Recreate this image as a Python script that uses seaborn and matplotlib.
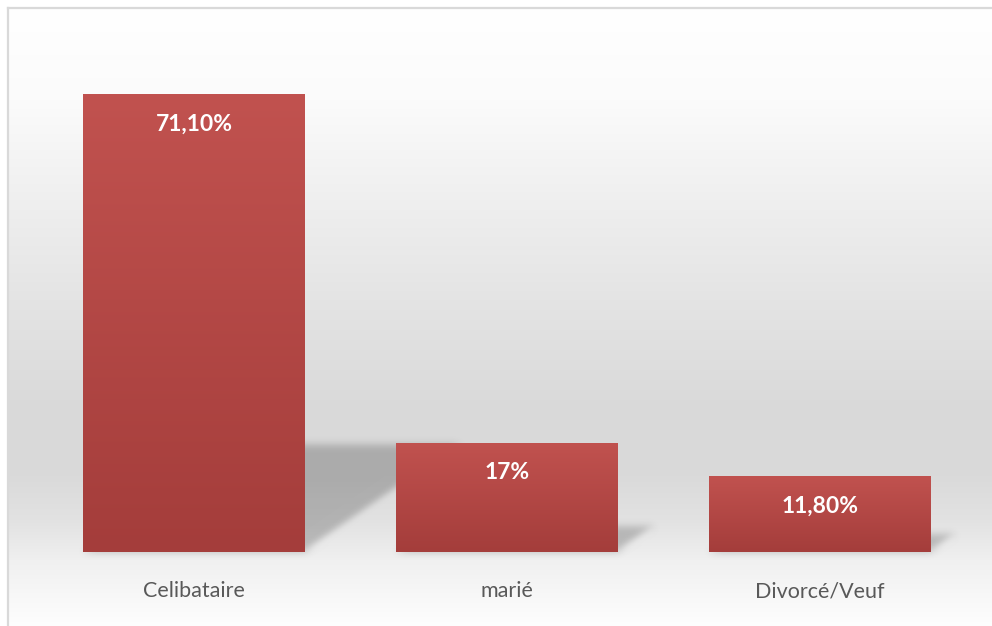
import numpy as np
import pandas as pd
import matplotlib
matplotlib.use("Agg")
import matplotlib.pyplot as plt
import seaborn as sns
from matplotlib.patches import Polygon
from matplotlib.lines import Line2D

# Data
categories = ["Celibataire", "marié", "Divorcé/Veuf"]
values = [71.10, 17.0, 11.80]
value_labels = ["71,10%", "17%", "11,80%"]

plt.rcParams["font.family"] = ["Lato", "DejaVu Sans"]

W, H = 992, 626
fig = plt.figure(figsize=(W / 100, H / 100), dpi=100)
fig.patch.set_facecolor("white")

# ---- chart-area background: vertical grey gradient ----
bg = fig.add_axes([9 / W, 0, 1 - 9 / W, 1 - 9 / H], zorder=0)
bg.set_axis_off()
rows = np.arange(9, H)
stop_y = [9, 100, 200, 300, 400, 470, 520, 560, 626]
stop_v = [255, 251, 239, 228, 218, 217, 226, 240, 254]
level = np.interp(rows, stop_y, stop_v) / 255.0
bg_img = np.repeat(level[:, None, None], 3, axis=2)
bg.imshow(bg_img, aspect="auto", extent=[0, 1, 0, 1], interpolation="bilinear")
bg.set_xlim(0, 1)
bg.set_ylim(0, 1)

# frame lines (top and left)
fig.add_artist(Line2D([8 / W, 1], [1 - 8 / H, 1 - 8 / H], transform=fig.transFigure,
                      color="#d9d9d9", lw=1.6, zorder=5))
fig.add_artist(Line2D([8 / W, 8 / W], [0, 1 - 8 / H], transform=fig.transFigure,
                      color="#d9d9d9", lw=1.6, zorder=5))

# ---- plot axes ----
ax_left, ax_right = 38, 976
base_px, top_px = 552, 37
ax = fig.add_axes([ax_left / W, (H - base_px) / H, (ax_right - ax_left) / W,
                   (base_px - top_px) / H], zorder=1)
ax.patch.set_alpha(0)

df = pd.DataFrame({"statut": categories, "pct": values})
sns.barplot(data=df, x="statut", y="pct", ax=ax, width=0.71, color="#c0504d",
            saturation=1, errorbar=None, zorder=2)

ax.set_xlim(-0.5, 2.5)
ax.set_ylim(0, 80)
for s in ax.spines.values():
    s.set_visible(False)
ax.set_yticks([])
ax.set_xlabel("")
ax.set_ylabel("")
ax.tick_params(axis="x", length=0, pad=21, labelsize=15.5, labelcolor="#595959")


def gauss_kernel(sigma):
    r = int(3 * sigma)
    x = np.arange(-r, r + 1)
    k = np.exp(-0.5 * (x / sigma) ** 2)
    return k / k.sum()


class BlurFilter:
    """Gaussian blur used as an agg filter for soft shadows."""

    def __init__(self, sigma):
        self.sigma = sigma

    def __call__(self, im, dpi):
        pad = int(3 * self.sigma) + 2
        src = np.pad(im, [(pad, pad), (pad, pad), (0, 0)], "constant")
        k = gauss_kernel(self.sigma)
        r = len(k) // 2
        out = np.zeros_like(src)
        for i, w in enumerate(k):
            out += w * np.roll(src, i - r, axis=0)
        out2 = np.zeros_like(out)
        for i, w in enumerate(k):
            out2 += w * np.roll(out, i - r, axis=1)
        return out2, -pad, -pad


# pixel scale of the data axes
fig.canvas.draw()
px_x = ax.bbox.width / 3.0
px_y = ax.bbox.height / 80.0

top_col = np.array([193, 82, 79]) / 255.0
bot_col = np.array([164, 61, 59]) / 255.0
grad = np.linspace(0, 1, 256)[:, None, None]
bar_grad = top_col * (1 - grad) + bot_col * grad

bars = list(ax.patches)
for p, lab in zip(bars, value_labels):
    x0, w, h = p.get_x(), p.get_width(), p.get_height()
    # perspective shadow cast behind the bar
    hs = 0.235 * h
    dx = 1.45 * hs * px_y / px_x
    shadow = Polygon([(x0, 0), (x0 + w, 0), (x0 + w + dx, hs), (x0 + dx, hs)],
                     closed=True, facecolor="black", edgecolor="none", alpha=0.21,
                     zorder=1)
    shadow.set_agg_filter(BlurFilter(4.0))
    ax.add_patch(shadow)
    # vertical gradient fill clipped to the bar
    im = ax.imshow(bar_grad, extent=[x0, x0 + w, 0, h], aspect="auto",
                   interpolation="bilinear", zorder=3)
    im.set_clip_path(p)
    ax.annotate(lab, (x0 + w / 2, h), xytext=(0, -30), textcoords="offset pixels",
                ha="center", va="center", color="white", fontsize=16.5,
                fontweight="bold", zorder=4)

ax.set_xlim(-0.5, 2.5)
ax.set_ylim(0, 80)

fig.savefig("out.png", dpi=100)
